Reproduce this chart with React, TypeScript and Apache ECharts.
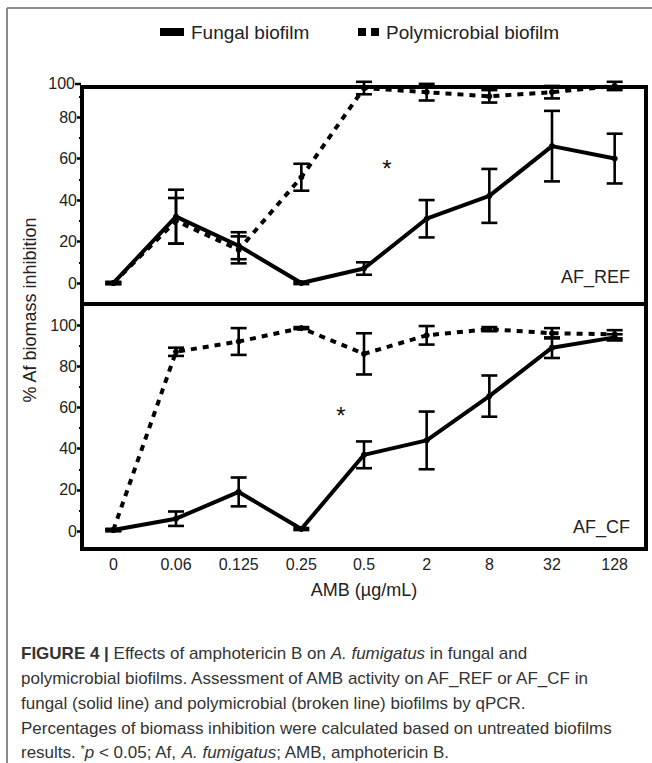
import React, { useEffect, useRef } from "react";
import * as echarts from "echarts";

const categories = ["0", "0.06", "0.125", "0.25", "0.5", "2", "8", "32", "128"];
const yTicks = [0, 20, 40, 60, 80, 100];
const yMinorTicks = [10, 30, 50, 70, 90];

const refFungal = [0, 32, 18, 0, 7, 31, 42, 66, 60];
const refFungalErr = [0.5, 13, 6.5, 0.5, 3, 9, 13, 17, 12];
const refPoly = [0, 30, 16, 51, 94, 92, 90, 92, 95];
const refPolyErr = [0.5, 11, 6.5, 6.5, 3, 4, 3, 3, 2];

const cfFungal = [0.5, 6, 19, 1, 37, 44, 65.5, 89, 94];
const cfFungalErr = [0.5, 3.5, 7, 0.5, 6.5, 14, 10, 5, 1.5];
const cfPoly = [0.5, 87, 92, 98.5, 86, 95, 98, 96, 95.5];
const cfPolyErr = [0.5, 2, 6.5, 0.5, 10, 4.5, 1, 2.5, 2];

const FONT = "'Liberation Sans', Arial, sans-serif";

function errData(vals: number[], errs: number[]) {
  return vals.map((v, i) => [i, v, errs[i]]);
}

function errorSeries(xi: number, yi: number, vals: number[], errs: number[]) {
  return {
    type: "custom",
    xAxisIndex: xi,
    yAxisIndex: yi,
    silent: true,
    clip: false,
    z: 4,
    data: errData(vals, errs),
    renderItem: (params: any, api: any) => {
      const x = api.value(0);
      const y = api.value(1);
      const e = api.value(2);
      const hi = api.coord([x, y + e]);
      const lo = api.coord([x, y - e]);
      const w = 8;
      const st = { stroke: "#000", lineWidth: 2.6 };
      return {
        type: "group",
        children: [
          { type: "line", shape: { x1: hi[0], y1: hi[1], x2: lo[0], y2: lo[1] }, style: st },
          { type: "line", shape: { x1: hi[0] - w, y1: hi[1], x2: hi[0] + w, y2: hi[1] }, style: st },
          { type: "line", shape: { x1: lo[0] - w, y1: lo[1], x2: lo[0] + w, y2: lo[1] }, style: st },
        ],
      };
    },
  };
}

function lineSeries(xi: number, yi: number, vals: number[], dashed: boolean) {
  return {
    type: "line",
    xAxisIndex: xi,
    yAxisIndex: yi,
    data: vals,
    clip: false,
    symbol: "circle",
    symbolSize: 6,
    itemStyle: { color: "#000" },
    lineStyle: { color: "#000", width: 4, type: dashed ? [6, 6] : "solid", cap: "butt" },
    z: 3,
  };
}

function yAxisMajor(gi: number, min: number, max: number, ticks: number[]) {
  return {
    type: "value",
    gridIndex: gi,
    min,
    max,
    axisLine: { show: true, lineStyle: { color: "#000", width: 4 } },
    axisTick: { show: true, length: 5, lineStyle: { color: "#000", width: 2.5 }, customValues: ticks },
    axisLabel: { show: true, fontSize: 16, color: "#222", fontFamily: FONT, margin: 5, customValues: ticks },
    splitLine: { show: false },
  };
}

function yAxisMinor(gi: number, min: number, max: number) {
  return {
    type: "value",
    gridIndex: gi,
    min,
    max,
    position: "left",
    axisLine: { show: false },
    axisTick: { show: true, length: 3, lineStyle: { color: "#000", width: 2 }, customValues: yMinorTicks },
    axisLabel: { show: false },
    splitLine: { show: false },
  };
}

export default function App() {
  const ref = useRef<HTMLDivElement>(null);
  useEffect(() => {
    document.body.style.margin = "0";
    const chart = echarts.init(ref.current!, null, { renderer: "svg" });
    const capY = [653, 678, 703, 728, 752];
    const capStyle = { fontSize: 17, fill: "#333", fontFamily: FONT };
    const rich = {
      b: { fontWeight: "bold", fontSize: 17, color: "#333", fontFamily: FONT },
      i: { fontStyle: "italic", fontSize: 17, color: "#333", fontFamily: FONT },
      n: { fontSize: 17, color: "#333", fontFamily: FONT },
      s: { fontSize: 11, color: "#333", fontFamily: FONT, verticalAlign: "top", padding: [0, 0, 6, 0] },
    };
    const capLines = [
      "{b|FIGURE 4 |}{n| Effects of amphotericin B on }{i|A. fumigatus}{n| in fungal and}",
      "{n|polymicrobial biofilms. Assessment of AMB activity on AF_REF or AF_CF in}",
      "{n|fungal (solid line) and polymicrobial (broken line) biofilms by qPCR.}",
      "{n|Percentages of biomass inhibition were calculated based on untreated biofilms}",
      "{n|results. }{s|*}{i|p}{n| < 0.05; Af, }{i|A. fumigatus}{n|; AMB, amphotericin B.}",
    ];
    const option: any = {
      animation: false,
      backgroundColor: "#fff",
      grid: [
        { left: 82, top: 87, width: 564, height: 217, show: true, borderColor: "#000", borderWidth: 4, backgroundColor: "transparent" },
        { left: 82, top: 304, width: 564, height: 245, show: true, borderColor: "#000", borderWidth: 4, backgroundColor: "transparent" },
      ],
      xAxis: [
        {
          type: "category", gridIndex: 0, data: categories, boundaryGap: true,
          axisLine: { show: false }, axisTick: { show: false }, axisLabel: { show: false },
        },
        {
          type: "category", gridIndex: 1, data: categories, boundaryGap: true,
          axisLine: { show: false }, axisTick: { show: false },
          axisLabel: { show: true, fontSize: 16, color: "#222", fontFamily: FONT, margin: 7 },
        },
      ],
      yAxis: [
        yAxisMajor(0, -10.1, 94.5, yTicks.slice(0, 5)),
        yAxisMajor(1, -8.7, 110.2, yTicks),
        yAxisMinor(0, -10.1, 94.5),
        yAxisMinor(1, -8.7, 110.2),
      ],
      series: [
        lineSeries(0, 0, refFungal, false),
        lineSeries(0, 0, refPoly, true),
        errorSeries(0, 0, refFungal, refFungalErr),
        errorSeries(0, 0, refPoly, refPolyErr),
        lineSeries(1, 1, cfFungal, false),
        lineSeries(1, 1, cfPoly, true),
        errorSeries(1, 1, cfFungal, cfFungalErr),
        errorSeries(1, 1, cfPoly, cfPolyErr),
      ],
      graphic: [
        { type: "line", shape: { x1: 7, y1: 8, x2: 652, y2: 8 }, style: { stroke: "#8a8a8a", lineWidth: 2 } },
        { type: "line", shape: { x1: 7, y1: 8, x2: 7, y2: 763 }, style: { stroke: "#8a8a8a", lineWidth: 2 } },
        // top-panel "100" label sitting at the frame edge
        { type: "line", shape: { x1: 75, y1: 84, x2: 81, y2: 84 }, style: { stroke: "#000", lineWidth: 2.5 } },
        { type: "text", x: 75, y: 83, style: { text: "100", fontSize: 16, fill: "#222", fontFamily: FONT, align: "right", verticalAlign: "middle" } },
        // legend
        { type: "rect", shape: { x: 160, y: 28, width: 24, height: 8 }, style: { fill: "#000" } },
        { type: "text", x: 191, y: 32, style: { text: "Fungal biofilm", fontSize: 19, fill: "#222", fontFamily: FONT, verticalAlign: "middle" } },
        { type: "rect", shape: { x: 358, y: 28, width: 8, height: 8 }, style: { fill: "#000" } },
        { type: "rect", shape: { x: 371, y: 28, width: 8, height: 8 }, style: { fill: "#000" } },
        { type: "text", x: 386, y: 32, style: { text: "Polymicrobial biofilm", fontSize: 19, fill: "#222", fontFamily: FONT, verticalAlign: "middle" } },
        // panel labels and asterisks
        { type: "text", x: 630, y: 277, style: { text: "AF_REF", fontSize: 18, fill: "#222", fontFamily: FONT, align: "right", verticalAlign: "middle" } },
        { type: "text", x: 630, y: 527, style: { text: "AF_CF", fontSize: 18, fill: "#222", fontFamily: FONT, align: "right", verticalAlign: "middle" } },
        { type: "text", x: 387, y: 168, style: { text: "*", fontSize: 24, fill: "#111", fontFamily: FONT, align: "center", verticalAlign: "middle" } },
        { type: "text", x: 341, y: 415, style: { text: "*", fontSize: 24, fill: "#111", fontFamily: FONT, align: "center", verticalAlign: "middle" } },
        // axis names
        { type: "text", x: 30, y: 310, rotation: Math.PI / 2, style: { text: "% Af biomass inhibition", fontSize: 18, fill: "#222", fontFamily: FONT, align: "center", verticalAlign: "middle" } },
        { type: "text", x: 364, y: 590, style: { text: "AMB (µg/mL)", fontSize: 18, fill: "#222", fontFamily: FONT, align: "center", verticalAlign: "middle" } },
        // caption
        ...capLines.map((t, k) => ({
          type: "text",
          x: 21,
          y: capY[k],
          style: { text: t, rich, ...capStyle, verticalAlign: "middle" },
        })),
      ],
    };
    chart.setOption(option);
    return () => chart.dispose();
  }, []);
  return <div ref={ref} style={{ width: 652, height: 763 }} />;
}
